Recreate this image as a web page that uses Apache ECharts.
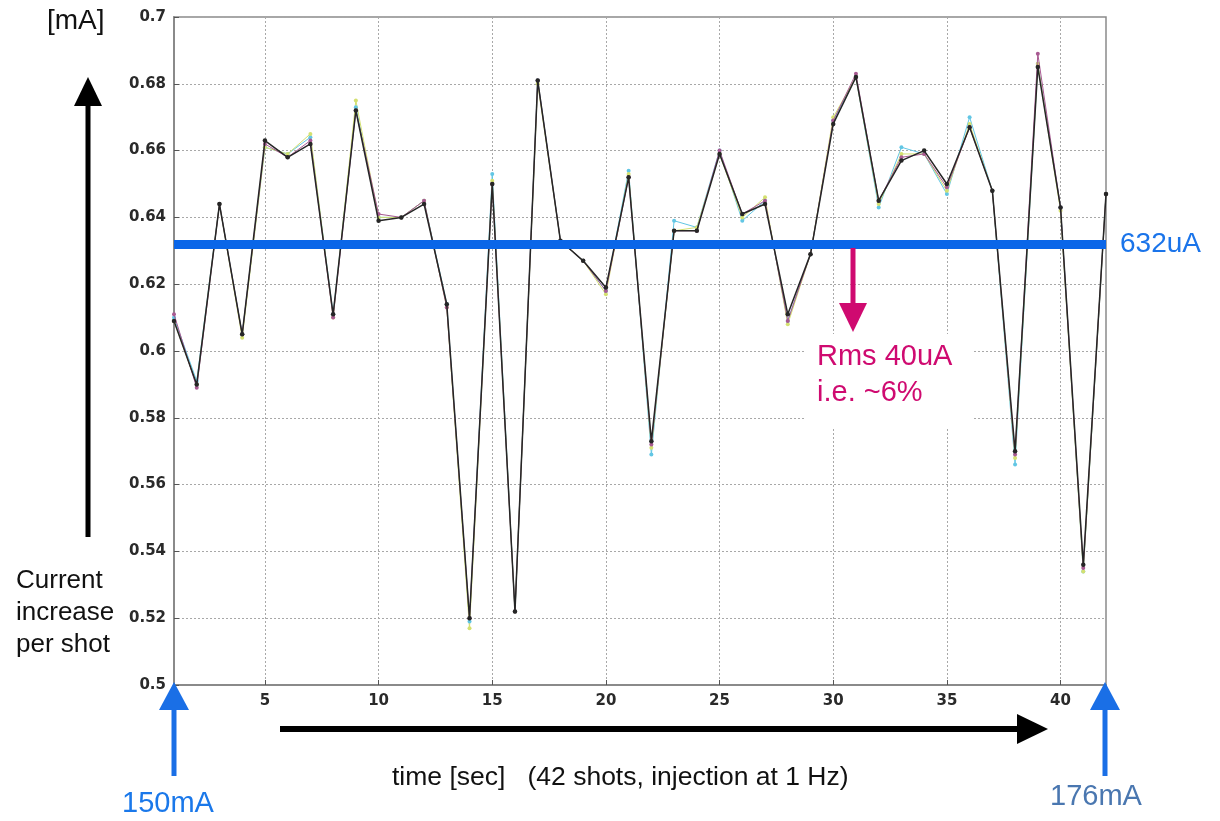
<!DOCTYPE html>
<html>
<head>
<meta charset="utf-8">
<title>Current increase per shot</title>
<script src="https://cdn.jsdelivr.net/npm/echarts@6/dist/echarts.min.js"></script>
<style>
  html, body { margin: 0; padding: 0; background: #ffffff; }
  #chart { width: 1220px; height: 821px; }
</style>
</head>
<body>
<div id="chart"></div>
<script>
// Shot number (1 Hz injection, 42 shots)
const shots = [1,2,3,4,5,6,7,8,9,10,11,12,13,14,15,16,17,18,19,20,21,
               22,23,24,25,26,27,28,29,30,31,32,33,34,35,36,37,38,39,40,41,42];

// Current increase per shot [mA], main measurement
const mainTrace = [0.609,0.590,0.644,0.605,0.663,0.658,0.662,0.611,0.672,0.639,0.640,
                   0.644,0.614,0.520,0.650,0.522,0.681,0.633,0.627,0.619,0.652,0.573,
                   0.636,0.636,0.659,0.641,0.644,0.611,0.629,0.668,0.682,0.645,0.657,
                   0.660,0.650,0.667,0.648,0.570,0.685,0.643,0.536,0.647];

// Companion traces from the other monitors
const cyanTrace = [0.610,0.591,0.644,0.605,0.661,0.659,0.664,0.611,0.673,0.640,0.640,
                   0.645,0.614,0.519,0.653,0.522,0.681,0.633,0.627,0.618,0.654,0.569,
                   0.639,0.637,0.660,0.639,0.645,0.609,0.629,0.669,0.682,0.643,0.661,
                   0.659,0.647,0.670,0.648,0.566,0.686,0.643,0.534,0.647];

const yellowTrace = [0.609,0.590,0.644,0.604,0.661,0.659,0.665,0.610,0.675,0.640,0.640,
                     0.645,0.613,0.517,0.651,0.522,0.680,0.633,0.627,0.617,0.653,0.571,
                     0.636,0.637,0.659,0.640,0.646,0.608,0.629,0.670,0.682,0.644,0.659,
                     0.659,0.648,0.668,0.648,0.568,0.686,0.642,0.534,0.647];

const magentaTrace = [0.611,0.589,0.644,0.605,0.662,0.658,0.663,0.610,0.672,0.641,0.640,
                      0.645,0.613,0.520,0.650,0.522,0.681,0.633,0.627,0.618,0.652,0.572,
                      0.636,0.636,0.660,0.641,0.645,0.609,0.629,0.669,0.683,0.645,0.658,
                      0.659,0.649,0.667,0.648,0.569,0.689,0.643,0.535,0.647];

// Mean increase per shot [mA]
const meanLevel = 0.632;

// Tick positions
const xTicks = [5,10,15,20,25,30,35,40];
const yMin = 0.5, yMax = 0.7, yStep = 0.02;

function pairs(values) {
  return shots.map((s, i) => [s, values[i]]);
}

function traceSeries(name, values, color, width, size, z) {
  return {
    name: name,
    type: 'line',
    data: pairs(values),
    z: z,
    symbol: 'circle',
    symbolSize: size,
    showSymbol: true,
    animation: false,
    lineStyle: { color: color, width: width },
    itemStyle: { color: color }
  };
}

const tickFont = { fontFamily: 'DejaVu Sans', fontWeight: 'bold', fontSize: 15, color: '#2a2a2a' };
const textFont = 'Liberation Sans, Arial, sans-serif';

const chart = echarts.init(document.getElementById('chart'), null, { renderer: 'canvas' });

const mainSeries = traceSeries('main', mainTrace, '#262626', 1.5, 4.5, 6);
mainSeries.markLine = {
  silent: true,
  symbol: 'none',
  precision: 3,
  animation: false,
  z: 10,
  lineStyle: { color: '#0a66e8', width: 9, type: 'solid', opacity: 1 },
  label: {
    show: true,
    position: 'end',
    distance: 14,
    padding: [0, 0, 18, 0],
    color: '#1a74ea',
    fontSize: 28,
    fontFamily: textFont,
    formatter: p => Math.round(p.value * 1000) + 'uA'
  },
  data: [{ yAxis: meanLevel }]
};

const option = {
  backgroundColor: '#ffffff',
  animation: false,
  grid: {
    left: 174, right: 114, top: 17, bottom: 136,
    show: true, borderColor: '#8a8a8a', borderWidth: 1.5, backgroundColor: '#ffffff'
  },
  xAxis: {
    type: 'value',
    min: 1, max: 42,
    axisLine: { show: true, onZero: false, lineStyle: { color: '#8a8a8a', width: 2 } },
    axisTick: { show: true, inside: true, length: 5, customValues: xTicks, lineStyle: { color: '#555' } },
    axisLabel: Object.assign({ margin: 9, customValues: xTicks }, tickFont),
    splitLine: { show: true, lineStyle: { color: '#a8a8a8', width: 1, type: [2, 2] } }
  },
  yAxis: {
    type: 'value',
    min: yMin, max: yMax, interval: yStep,
    axisLine: { show: true, lineStyle: { color: '#8a8a8a', width: 2 } },
    axisTick: { show: true, inside: true, length: 5, lineStyle: { color: '#555' } },
    axisLabel: Object.assign({ margin: 8, formatter: v => String(+v.toFixed(2)) }, tickFont),
    splitLine: { show: true, lineStyle: { color: '#a8a8a8', width: 1, type: [2, 2] } }
  },
  series: [
    traceSeries('cyan', cyanTrace, '#62c6e4', 1, 4, 3),
    traceSeries('yellow', yellowTrace, '#d4e070', 1, 4, 3),
    traceSeries('magenta', magentaTrace, '#a85a92', 1, 4, 4),
    mainSeries
  ],
  graphic: [
    // unit label
    { type: 'text', left: 47, top: 7, z: 50,
      style: { text: '[mA]', font: '28px ' + textFont, fill: '#111' } },
    // vertical "increasing current" arrow
    { type: 'rect', z: 50, shape: { x: 85.5, y: 100, width: 5, height: 437 }, style: { fill: '#000' } },
    { type: 'polygon', z: 50, shape: { points: [[88, 77], [102, 106], [74, 106]] }, style: { fill: '#000' } },
    { type: 'text', left: 16, top: 565, z: 50,
      style: { text: 'Current\nincrease\nper shot', font: '26px ' + textFont, lineHeight: 32, fill: '#111' } },
    // time arrow
    { type: 'rect', z: 50, shape: { x: 280, y: 726, width: 740, height: 6 }, style: { fill: '#000' } },
    { type: 'polygon', z: 50, shape: { points: [[1048, 729], [1017, 714], [1017, 744]] }, style: { fill: '#000' } },
    { type: 'text', left: 392, top: 764, z: 50,
      style: { text: 'time [sec]   (42 shots, injection at 1 Hz)', font: '26.5px ' + textFont, fill: '#111' } },
    // stored current at start and end
    { type: 'rect', z: 50, shape: { x: 171.5, y: 706, width: 5, height: 70 }, style: { fill: '#1a6fe6' } },
    { type: 'polygon', z: 50, shape: { points: [[174, 682], [189, 710], [159, 710]] }, style: { fill: '#1a6fe6' } },
    { type: 'text', left: 122, top: 789, z: 50,
      style: { text: '150mA', font: '29px ' + textFont, fill: '#1a78ea' } },
    { type: 'rect', z: 50, shape: { x: 1102.5, y: 706, width: 5, height: 70 }, style: { fill: '#1a6fe6' } },
    { type: 'polygon', z: 50, shape: { points: [[1105, 682], [1120, 710], [1090, 710]] }, style: { fill: '#1a6fe6' } },
    { type: 'text', left: 1050, top: 782, z: 50,
      style: { text: '176mA', font: '29px ' + textFont, fill: '#4a77b0' } },
    // rms annotation
    { type: 'rect', z: 50, shape: { x: 850.5, y: 248, width: 5, height: 58 }, style: { fill: '#cf0a70' } },
    { type: 'polygon', z: 50, shape: { points: [[853, 332], [867, 303], [839, 303]] }, style: { fill: '#cf0a70' } },
    { type: 'rect', z: 40, shape: { x: 805, y: 334, width: 168, height: 94 }, style: { fill: '#ffffff' } },
    { type: 'text', left: 817, top: 339, z: 50,
      style: { text: 'Rms 40uA\ni.e. ~6%', font: '29px ' + textFont, lineHeight: 36, fill: '#cf0a70' } }
  ]
};

chart.setOption(option);
</script>
</body>
</html>
